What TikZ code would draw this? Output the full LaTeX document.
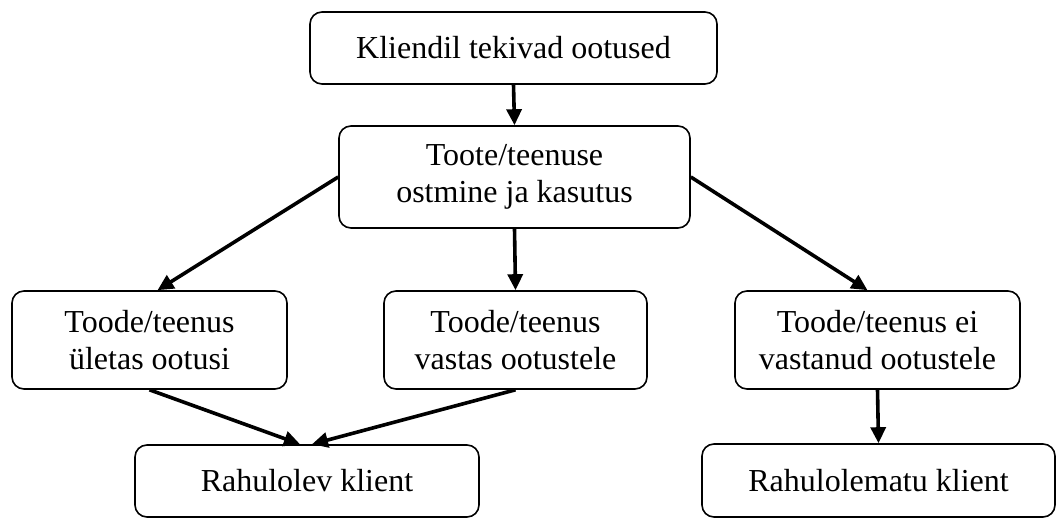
\documentclass[tikz,border=0pt]{standalone}
\usepackage{fontspec}
\setmainfont{Liberation Serif}
\usetikzlibrary{arrows.meta,positioning,calc}

\begin{document}
\begin{tikzpicture}[x=1pt, y=-1pt,
    kast/.style={draw, line width=1.6pt, rounded corners=12pt, align=center, inner sep=2pt,
                 font=\fontsize{32}{36.5}\selectfont},
    nool/.style={-{Triangle[length=16pt,width=15pt]}, line width=3.6pt}]
            \useasboundingbox (0,0) rectangle (1056,518);
            \node[kast, minimum width=407pt, minimum height=72pt] (ootused) at (513.5,48) {Kliendil tekivad ootused};
            \node[kast, minimum width=351pt, minimum height=102pt] (ostmine) at (514.5,177) {Toote/teenuse\\ostmine ja kasutus};
            \node[kast, minimum width=275pt, minimum height=98pt] (yletas) at (149.5,340) {Toode/teenus\\ületas ootusi};
            \node[kast, minimum width=263pt, minimum height=98pt] (vastas) at (515.5,340) {Toode/teenus\\vastas ootustele};
            \node[kast, minimum width=285pt, minimum height=98pt] (eivastanud) at (877.5,340) {Toode/teenus ei\\vastanud ootustele};
            \node[kast, minimum width=344pt, minimum height=72pt] (rahulolev) at (307,481) {Rahulolev klient};
            \node[kast, minimum width=353pt, minimum height=73pt] (rahulolematu) at (878.5,480.5) {Rahulolematu klient};
            \draw[nool] (ootused.south) -- (ostmine.north);
            \draw[nool] (ostmine.west) -- ([xshift=8pt]yletas.north);
            \draw[nool] (ostmine.south) -- (vastas.north);
            \draw[nool] (ostmine.east) -- ([xshift=-10pt]eivastanud.north);
            \draw[nool] (yletas.south) -- ([xshift=-7pt]rahulolev.north);
            \draw[nool] (vastas.south) -- ([xshift=5pt]rahulolev.north);
            \draw[nool] (eivastanud.south) -- (rahulolematu.north);
        \end{tikzpicture}
\end{document}
